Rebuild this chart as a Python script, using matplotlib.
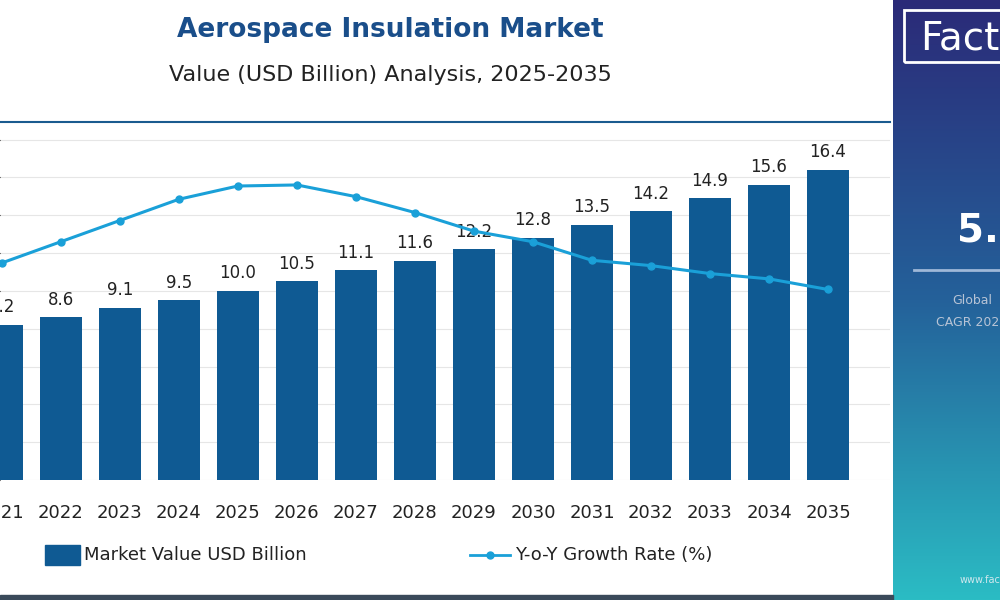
import matplotlib
matplotlib.use("Agg")
import matplotlib.pyplot as plt
import numpy as np
from matplotlib.patches import Rectangle
from matplotlib.lines import Line2D

years = [2021, 2022, 2023, 2024, 2025, 2026, 2027, 2028, 2029, 2030, 2031, 2032, 2033, 2034, 2035]
year_labels = [str(y) for y in years]
market_value = [8.2, 8.6, 9.1, 9.5, 10.0, 10.5, 11.1, 11.6, 12.2, 12.8, 13.5, 14.2, 14.9, 15.6, 16.4]
growth_rate = [4.6, 5.0, 5.4, 5.8, 6.05, 6.07, 5.85, 5.55, 5.2, 5.0, 4.65, 4.55, 4.4, 4.3, 4.1]

BAR = "#0f5a93"
LINE = "#1aa0d8"
TITLE = "#1a4e8a"

fig = plt.figure(figsize=(10, 6), dpi=100)
W, H = 1000, 600

ax = fig.add_axes([0, 0.2, 0.89, 0.597])
ax.set_xlim(2020.97, 2036.05)
ax.set_ylim(0, 18.94)
ax.bar(years, market_value, width=0.71, color=BAR, zorder=2)
for x, v in zip(years, market_value):
    ax.text(x, v + 0.45, f"{v:.1f}", ha="center", va="bottom", fontsize=12, color="#222222", zorder=4)
ax.set_yticks(np.arange(0, 19, 2))
ax.yaxis.grid(True, color="#e6e6e6", lw=0.8, zorder=0)
ax.tick_params(left=False, labelleft=False, bottom=False)
ax.set_xticks(years)
ax.set_xticklabels(year_labels, fontsize=13, color="#222222")
ax.tick_params(axis="x", pad=14)
for s in ax.spines.values():
    s.set_visible(False)

ax2 = ax.twinx()
ax2.set_ylim(0.51, 7.26)
ax2.plot(years, growth_rate, color=LINE, lw=2.2, marker="o", ms=5, zorder=3)
ax2.axis("off")

# top horizontal line
fig.add_artist(Line2D([0, 0.89], [1 - 122 / H, 1 - 122 / H], color="#1a5b8f", lw=1.5))

# titles
fig.text(0.39, 1 - 30 / H, "Aerospace Insulation Market", ha="center", va="center",
         fontsize=19, fontweight="bold", color=TITLE)
fig.text(0.39, 1 - 75 / H, "Value (USD Billion) Analysis, 2025-2035", ha="center", va="center",
         fontsize=16, color="#222222")

# legend
fig.add_artist(Rectangle((45 / W, 1 - 565 / H), 35 / W, 20 / H, color=BAR, transform=fig.transFigure))
fig.text(84 / W, 1 - 555 / H, "Market Value USD Billion", va="center", fontsize=13, color="#222222")
fig.add_artist(Line2D([470 / W, 510 / W], [1 - 555 / H] * 2, color=LINE, lw=2, transform=fig.transFigure))
fig.add_artist(Line2D([490 / W], [1 - 555 / H], color=LINE, marker="o", ms=5, transform=fig.transFigure))
fig.text(515 / W, 1 - 555 / H, "Y-o-Y Growth Rate (%)", va="center", fontsize=13, color="#222222")

# right gradient panel
pax = fig.add_axes([893 / W, 0, 107 / W, 1])
grad = np.linspace(0, 1, 256)[:, None]
from matplotlib.colors import LinearSegmentedColormap
cmap = LinearSegmentedColormap.from_list("g", ["#2b2a78", "#24619a", "#2bbcc4"])
pax.imshow(grad, aspect="auto", cmap=cmap, extent=[0, 1, 0, 1], origin="upper")
pax.set_xlim(0, 1); pax.set_ylim(0, 1)
pax.axis("off")
pax.add_patch(Rectangle((0.1, 1 - 62 / H), 1.2, 52 / H, fill=False, ec="white", lw=2, clip_on=True))
pax.text(0.25, 1 - 38 / H, "Fact", fontsize=28, color="white", va="center", clip_on=True)
pax.text(0.6, 1 - 230 / H, "5.", fontsize=28, fontweight="bold", color="white", va="center", clip_on=True)
pax.plot([0.2, 1], [1 - 270 / H] * 2, color="#9fb8d8", lw=2)
pax.text(0.55, 1 - 300 / H, "Global", fontsize=9, color="#b8c4d6", va="center", clip_on=True)
pax.text(0.4, 1 - 322 / H, "CAGR 2025", fontsize=9, color="#b8c4d6", va="center", clip_on=True)
pax.text(0.62, 1 - 580 / H, "www.fact", fontsize=7, color="#d0e8ee", va="center", clip_on=True)

# bottom border
fig.add_artist(Rectangle((0, 0), 0.893, 5 / H, color="#3a4a5a", transform=fig.transFigure))

fig.savefig("out.png", dpi=100)
